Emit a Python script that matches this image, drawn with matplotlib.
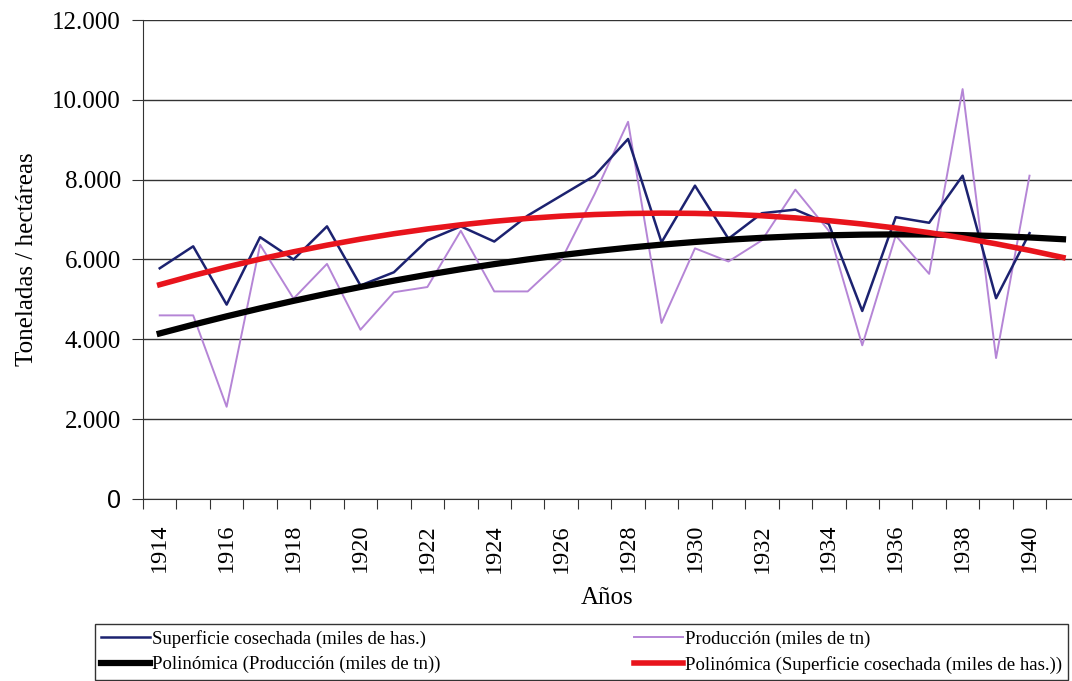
import numpy as np
import matplotlib
matplotlib.use("Agg")
import matplotlib.pyplot as plt
from matplotlib.ticker import FuncFormatter, FixedLocator

# datos (miles)
anios = list(range(1914, 1941))
superficie = [5780, 6330, 4870, 6560, 6000, 6830, 5350, 5680, 6480, 6830,
              6450, 7100, 7600, 8100, 9020, 6430, 7850, 6520, 7160, 7250,
              6890, 4710, 7060, 6920, 8100, 5030, 6660]
produccion = [4600, 4600, 2310, 6370, 5020, 5890, 4240, 5180, 5310, 6720,
              5200, 5200, 5980, 7640, 9450, 4410, 6280, 5950, 6480, 7750,
              6720, 3850, 6600, 5640, 10270, 3530, 8100]

plt.rcParams['font.family'] = ['Liberation Serif', 'DejaVu Serif']

fig = plt.figure(figsize=(10.72, 6.81), dpi=100)
ax = fig.add_axes([0.1334, 0.2673, 0.8666, 0.7033])

x = np.arange(len(anios))
x_tend = np.arange(len(anios) + 1)  # la tendencia se prolonga un periodo

# tendencias polinomicas de orden 2 (como en Excel)
coef_prod = np.polyfit(x, produccion, 2)
coef_sup = np.polyfit(x, superficie, 2)

l_sup, = ax.plot(x, superficie, color='#1c2270', lw=1.8, label='Superficie cosechada (miles de has.)', zorder=3)
l_prod, = ax.plot(x, produccion, color='#b585d6', lw=1.4, label='Producción (miles de tn)', zorder=2)
t_prod, = ax.plot(x_tend, np.polyval(coef_prod, x_tend), color='black', lw=4.5,
                  label='Polinómica (Producción (miles de tn))', zorder=4)
t_sup, = ax.plot(x_tend, np.polyval(coef_sup, x_tend), color='#e8141c', lw=4.0,
                 label='Polinómica (Superficie cosechada (miles de has.))', zorder=5)

ax.set_xlim(-0.5, 27.27)
ax.set_ylim(0, 12000)
ax.set_yticks(range(0, 12001, 2000))
ax.yaxis.set_major_formatter(FuncFormatter(lambda v, p: f"{int(v):,}".replace(',', '.')))
ax.grid(axis='y', color='#333333', lw=1.0)
ax.set_axisbelow(True)

# marcas entre categorias, etiquetas cada dos anios
ax.xaxis.set_major_locator(FixedLocator(np.arange(-0.5, 28, 1)))
ax.set_xticklabels([])
ax.xaxis.set_minor_locator(FixedLocator(x[::2]))
ax.set_xticklabels([str(a) for a in anios[::2]], minor=True, rotation=90, fontsize=17.5)
ax.tick_params(axis='x', which='minor', length=0, pad=18)
ax.tick_params(axis='x', which='major', length=7, direction='out', color='#333333')
ax.tick_params(axis='y', length=8, labelsize=18, color='#333333', pad=8)
fig.canvas.draw()
ax.get_yticklabels()[0].set_family('Liberation Sans')

for s in ['top', 'right']:
    ax.spines[s].set_visible(False)
ax.spines['left'].set_color('#333333')
ax.spines['bottom'].set_color('#333333')

ax.set_ylabel('Toneladas / hectáreas', fontsize=18, labelpad=10)
ax.set_xlabel('Años', fontsize=18, labelpad=10)

# orden por columnas para que las filas queden como en el original
leg = fig.legend([l_sup, t_prod, l_prod, t_sup],
                 [l_sup.get_label(), t_prod.get_label(), l_prod.get_label(), t_sup.get_label()],
                 loc='lower left', bbox_to_anchor=(0.089, 0.002, 0.907, 0.088), mode='expand',
                 ncol=2, fontsize=13.5, frameon=True, fancybox=False, edgecolor='black',
                 handlelength=2.6, handletextpad=0.1, borderpad=0.3, labelspacing=0.45,
                 borderaxespad=0)
leg.get_frame().set_linewidth(1.0)

fig.savefig('out.png', dpi=100)
